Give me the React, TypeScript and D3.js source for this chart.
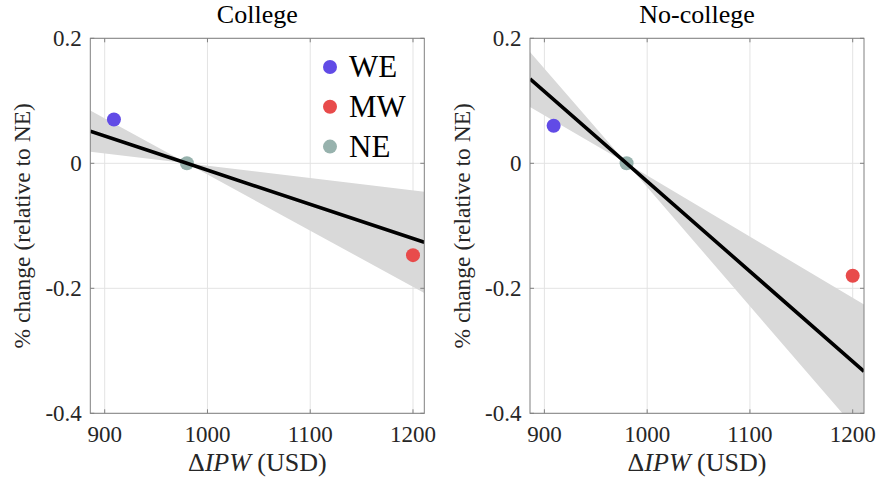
import React from "react";
import * as d3 from "d3";

// ---- data ----
const regions = ["WE", "MW", "NE"];
const regionColors = ["#614be6", "#e84b4b", "#97b2ad"];
const ipw = [909, 1200, 980];
const collegeChange = [0.07, -0.147, 0];
const noCollegeChange = [0.06, -0.18, 0];

// regression fit (through NE) and confidence band, evaluated at these x
const fitX = [886, 980, 1211];
const collegeFit = [0.0515, 0, -0.1264];
const collegeUpper = [0.0846, 0, -0.0455];
const collegeLower = [0.0185, 0, -0.2075];
const noCollegeFit = [0.135, 0, -0.333];
const noCollegeUpper = [0.178, 0, -0.226];
const noCollegeLower = [0.09, 0, -0.44];

const xTicks = [900, 1000, 1100, 1200];
const yTicks = [-0.4, -0.2, 0, 0.2];
const yTickLabels = ["-0.4", "-0.2", "0", "0.2"];
const xDomain: [number, number] = [886, 1211];
const yDomain: [number, number] = [-0.4, 0.2];

const titles = ["College", "No-college"];

const FONT =
  '"Liberation Serif", "Times New Roman", Times, Tinos, "Noto Serif", "DejaVu Serif", FreeSerif, "Nimbus Roman", serif';

function Panel(props: {
  idx: number;
  left: number;
  values: number[];
  fit: number[];
  upper: number[];
  lower: number[];
  legend: boolean;
}) {
  const { idx, left, values, fit, upper, lower, legend } = props;
  const top = 38.3;
  const width = 334;
  const height = 375;
  const x = d3.scaleLinear().domain(xDomain).range([left, left + width]);
  const y = d3.scaleLinear().domain(yDomain).range([top + height, top]);
  const clipId = `clip${idx}`;

  const bandPts = fitX.map((v, i) => ({
    x: v,
    hi: Math.max(upper[i], lower[i]),
    lo: Math.min(upper[i], lower[i]),
  }));
  const area = d3
    .area<{ x: number; hi: number; lo: number }>()
    .x((d) => x(d.x))
    .y0((d) => y(d.lo))
    .y1((d) => y(d.hi));
  const line = d3
    .line<number>()
    .x((_, i) => x(fitX[i]))
    .y((d) => y(d));

  const tickLen = 4;
  const axisColor = "#808080";
  const cx = left + width / 2;
  const ts = { fontFamily: FONT };

  return (
    <g>
      <defs>
        <clipPath id={clipId}>
          <rect x={left} y={top} width={width} height={height} />
        </clipPath>
      </defs>
      {xTicks.map((t) => (
        <line key={"gx" + t} x1={x(t)} x2={x(t)} y1={top} y2={top + height} stroke="#e3e3e3" strokeWidth={1} />
      ))}
      {yTicks.map((t) => (
        <line key={"gy" + t} x1={left} x2={left + width} y1={y(t)} y2={y(t)} stroke="#e3e3e3" strokeWidth={1} />
      ))}
      <g clipPath={`url(#${clipId})`}>
        <path d={area(bandPts) || ""} fill="#d9d9d9" stroke="none" />
        {values.map((v, i) => (
          <circle key={regions[i]} cx={x(ipw[i])} cy={y(v)} r={7} fill={regionColors[i]} />
        ))}
        <path d={line(fit) || ""} fill="none" stroke="#000" strokeWidth={3.6} />
      </g>
      <rect x={left} y={top} width={width} height={height} fill="none" stroke={axisColor} strokeWidth={1} />
      {xTicks.map((t) => (
        <g key={"tx" + t}>
          <line x1={x(t)} x2={x(t)} y1={top + height} y2={top + height - tickLen} stroke={axisColor} />
          <line x1={x(t)} x2={x(t)} y1={top} y2={top + tickLen} stroke={axisColor} />
          <text x={x(t)} y={442} textAnchor="middle" fontSize={23} fill="#262626" style={ts}>
            {t}
          </text>
        </g>
      ))}
      {yTicks.map((t, i) => (
        <g key={"ty" + t}>
          <line x1={left} x2={left + tickLen} y1={y(t)} y2={y(t)} stroke={axisColor} />
          <line x1={left + width} x2={left + width - tickLen} y1={y(t)} y2={y(t)} stroke={axisColor} />
          <text x={left - 8.5} y={y(t)} dy="0.34em" textAnchor="end" fontSize={23} fill="#262626" style={ts}>
            {yTickLabels[i]}
          </text>
        </g>
      ))}
      <text x={cx} y={23} textAnchor="middle" fontSize={26} fill="#000" style={ts}>
        {titles[idx]}
      </text>
      <text x={cx} y={471} textAnchor="middle" fontSize={26} fill="#262626" style={ts}>
        Δ<tspan fontStyle="italic">IPW</tspan> (USD)
      </text>
      <text
        transform={`translate(${left - 67},${top + height / 2}) rotate(-90)`}
        textAnchor="middle"
        dy="0.3em"
        fontSize={23.5}
        fill="#262626"
        style={ts}
      >
        % change (relative to NE)
      </text>
      {legend &&
        regions.map((r, i) => (
          <g key={"lg" + r}>
            <circle cx={330} cy={67 + i * 39.8} r={7} fill={regionColors[i]} />
            <text x={349} y={67 + i * 39.8} dy="0.33em" fontSize={31} fill="#000" style={ts}>
              {r}
            </text>
          </g>
        ))}
    </g>
  );
}

export default function App() {
  return (
    <svg width={878} height={481} style={{ position: "absolute", left: 0, top: 0, background: "#fff" }}>
      <rect width={878} height={481} fill="#fff" />
      <Panel idx={0} left={90.3} values={collegeChange} fit={collegeFit} upper={collegeUpper} lower={collegeLower} legend={true} />
      <Panel idx={1} left={530} values={noCollegeChange} fit={noCollegeFit} upper={noCollegeUpper} lower={noCollegeLower} legend={false} />
    </svg>
  );
}
